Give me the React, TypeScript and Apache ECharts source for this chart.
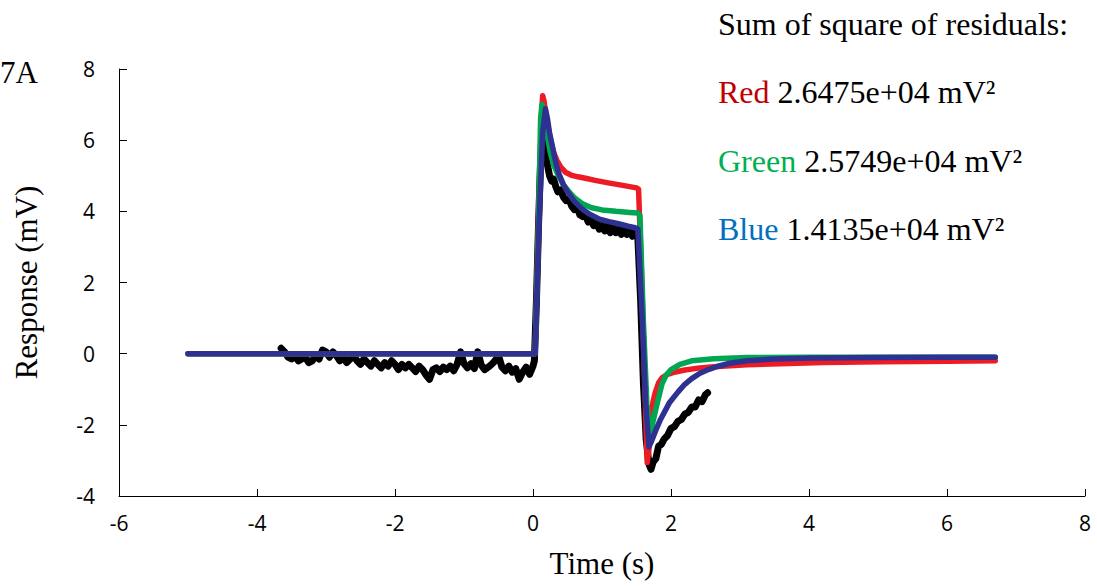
import React, { useEffect, useRef } from "react";
import * as echarts from "echarts";

// Measured trace (black)
const measured: [number, number][] = [
  [-3.65, 0.15], [-3.6, 0.05], [-3.55, -0.1], [-3.5, -0.15], [-3.45, -0.05], [-3.4, -0.2],
  [-3.35, -0.15], [-3.3, -0.1], [-3.25, -0.25], [-3.2, -0.2], [-3.15, -0.05], [-3.1, -0.15],
  [-3.05, 0.1], [-3.0, 0.05], [-2.95, -0.1], [-2.9, 0.05], [-2.85, -0.05], [-2.8, -0.2],
  [-2.75, -0.1], [-2.7, -0.25], [-2.65, -0.15], [-2.6, -0.05], [-2.55, -0.2], [-2.5, -0.3],
  [-2.45, -0.15], [-2.4, -0.25], [-2.35, -0.35], [-2.3, -0.2], [-2.25, -0.3], [-2.2, -0.4],
  [-2.15, -0.25], [-2.1, -0.35], [-2.05, -0.2], [-2.0, -0.3], [-1.95, -0.45], [-1.9, -0.3],
  [-1.85, -0.4], [-1.8, -0.3], [-1.75, -0.4], [-1.7, -0.5], [-1.65, -0.35], [-1.6, -0.45],
  [-1.55, -0.6], [-1.5, -0.72], [-1.45, -0.45], [-1.4, -0.4], [-1.35, -0.5], [-1.3, -0.38],
  [-1.25, -0.45], [-1.2, -0.35], [-1.15, -0.48], [-1.1, -0.3], [-1.05, 0.05], [-1.0, -0.28],
  [-0.95, -0.4], [-0.9, -0.28], [-0.85, -0.42], [-0.8, 0.05], [-0.75, -0.32], [-0.7, -0.45],
  [-0.65, -0.38], [-0.6, -0.3], [-0.55, -0.2], [-0.5, -0.05], [-0.45, -0.38], [-0.4, -0.48],
  [-0.35, -0.35], [-0.3, -0.52], [-0.25, -0.42], [-0.2, -0.72], [-0.15, -0.52], [-0.1, -0.38],
  [-0.05, -0.58], [0.0, -0.35], [0.02, -0.2], [0.05, 1.5], [0.08, 3.6], [0.11, 5.4],
  [0.14, 6.15], [0.16, 6.0], [0.18, 5.7], [0.21, 5.3], [0.24, 5.0], [0.27, 4.85],
  [0.3, 4.9], [0.33, 4.7], [0.36, 4.55], [0.4, 4.6], [0.44, 4.4], [0.48, 4.3],
  [0.52, 4.35], [0.56, 4.15], [0.6, 4.05], [0.64, 4.1], [0.68, 3.9], [0.72, 3.85],
  [0.76, 3.9], [0.8, 3.7], [0.84, 3.75], [0.88, 3.6], [0.92, 3.7], [0.96, 3.5],
  [1.0, 3.6], [1.04, 3.45], [1.08, 3.6], [1.12, 3.4], [1.16, 3.55], [1.2, 3.4],
  [1.24, 3.5], [1.28, 3.35], [1.32, 3.5], [1.36, 3.35], [1.4, 3.45], [1.44, 3.3],
  [1.48, 3.4], [1.52, 3.25], [1.56, 1.5], [1.6, -0.8], [1.64, -2.4], [1.68, -3.1],
  [1.71, -3.25], [1.74, -3.05], [1.78, -2.95], [1.82, -2.6], [1.86, -2.55], [1.9, -2.4],
  [1.95, -2.3], [2.0, -2.1], [2.05, -2.05], [2.1, -1.9], [2.15, -1.85], [2.2, -1.7],
  [2.25, -1.65], [2.3, -1.5], [2.35, -1.5], [2.4, -1.3], [2.45, -1.35], [2.5, -1.15],
  [2.53, -1.1],
];

// Red fit
const redFit: [number, number][] = [
  [-5, 0], [0.03, 0], [0.08, 3.8], [0.12, 6.6], [0.14, 7.25], [0.16, 7.1], [0.19, 6.7],
  [0.22, 6.35], [0.26, 5.95], [0.3, 5.65], [0.35, 5.42], [0.4, 5.25], [0.47, 5.1],
  [0.55, 5.02], [0.65, 4.97], [0.76, 4.93], [0.9, 4.87], [1.09, 4.8], [1.3, 4.73],
  [1.5, 4.66], [1.53, 4.62], [1.58, 1.8], [1.62, -0.9], [1.655, -3.06], [1.68, -2.7],
  [1.7, -1.9], [1.74, -1.35], [1.77, -1.1], [1.82, -0.82], [1.87, -0.68], [1.95, -0.58],
  [2.03, -0.53], [2.2, -0.46], [2.42, -0.4], [2.62, -0.37], [3.1, -0.31], [3.58, -0.28],
  [4.2, -0.25], [5.03, -0.23], [6.0, -0.21], [6.7, -0.2],
];

// Green fit
const greenFit: [number, number][] = [
  [-5, 0], [0.03, 0], [0.08, 3.6], [0.11, 6.6], [0.13, 7.0], [0.16, 6.7], [0.2, 6.2],
  [0.25, 5.65], [0.3, 5.3], [0.37, 5.0], [0.44, 4.75], [0.51, 4.58], [0.6, 4.38],
  [0.71, 4.22], [0.85, 4.1], [1.0, 4.04], [1.2, 4.0], [1.4, 3.97], [1.52, 3.95],
  [1.55, 3.88], [1.6, 0.9], [1.65, -1.4], [1.7, -2.3], [1.74, -1.9], [1.8, -1.4],
  [1.87, -0.85], [1.93, -0.6], [2.0, -0.45], [2.13, -0.3], [2.3, -0.2], [2.62, -0.14],
  [3.1, -0.11], [4.0, -0.1], [5.0, -0.1], [6.7, -0.1],
];

// Blue fit
const blueFit: [number, number][] = [
  [-5, 0], [0.03, 0], [0.09, 3.8], [0.14, 6.2], [0.18, 6.88], [0.21, 6.6], [0.24, 6.2],
  [0.28, 5.84], [0.32, 5.45], [0.37, 5.08], [0.44, 4.75], [0.51, 4.52], [0.6, 4.28],
  [0.71, 4.07], [0.82, 3.92], [0.95, 3.79], [1.1, 3.71], [1.24, 3.65], [1.38, 3.58],
  [1.48, 3.54], [1.52, 3.5], [1.585, 0.93], [1.63, -1.3], [1.68, -2.62], [1.72, -2.45],
  [1.78, -2.15], [1.84, -1.88], [1.98, -1.37], [2.1, -1.08], [2.2, -0.86], [2.3, -0.7],
  [2.42, -0.55], [2.55, -0.44], [2.67, -0.36], [2.85, -0.27], [3.1, -0.2], [3.5, -0.15],
  [4.06, -0.12], [5.0, -0.11], [6.0, -0.1], [6.7, -0.1],
];

const xTicks = { min: -6, max: 8, interval: 2 };
const yTicks = { min: -4, max: 8, interval: 2 };

const residualTitle = "Sum of square of residuals:";
const residualNames = ["Red", "Green", "Blue"];
const residualValues = ["2.6475e+04 mV²", "2.5749e+04 mV²", "1.4135e+04 mV²"];
const residualColors = ["#c00000", "#00b050", "#0070c0"];

const SERIF = "'Liberation Serif', 'Times New Roman', serif";
const SANS = "'Open Sans', 'Noto Sans', sans-serif";

export default function App() {
  const ref = useRef<HTMLDivElement>(null);
  useEffect(() => {
    if (!ref.current) return;
    const chart = echarts.init(ref.current, undefined, { renderer: "svg" });
    const legendY = [92, 161, 229];
    const graphics: any[] = [
      {
        type: "text",
        x: 0,
        y: 72,
        style: { text: "7A", font: `31px ${SERIF}`, fill: "#000", verticalAlign: "middle" },
      },
      {
        type: "text",
        x: 718,
        y: 24,
        style: { text: residualTitle, font: `32px ${SERIF}`, fill: "#000", verticalAlign: "middle" },
      },
    ];
    residualNames.forEach((n, i) => {
      graphics.push({
        type: "text",
        x: 718,
        y: legendY[i],
        style: {
          text: `{c|${n}} ${residualValues[i]}`,
          font: `32px ${SERIF}`,
          fontSize: 32,
          fontFamily: SERIF,
          fill: "#000",
          verticalAlign: "middle",
          rich: {
            c: { fill: residualColors[i], fontSize: 32, fontFamily: SERIF },
          },
        },
      });
    });

    const lineStyleFor = (color: string, width: number) => ({
      type: "line" as const,
      showSymbol: false,
      symbol: "none",
      smooth: false,
      lineStyle: { color, width, join: "round", cap: "round" },
      itemStyle: { color },
      z: 2,
    });

    chart.setOption({
      animation: false,
      backgroundColor: "#fff",
      grid: { left: 119, right: 12, top: 69, bottom: 92, containLabel: false },
      xAxis: {
        type: "value",
        min: xTicks.min,
        max: xTicks.max,
        interval: xTicks.interval,
        name: "Time (s)",
        nameLocation: "middle",
        nameGap: 52,
        nameTextStyle: { fontFamily: SERIF, fontSize: 31, color: "#000" },
        axisLine: { show: true, onZero: false, lineStyle: { color: "#000", width: 1 } },
        axisTick: { show: true, inside: true, length: 7, lineStyle: { color: "#000" } },
        axisLabel: { fontFamily: SANS, fontSize: 21, color: "#000", margin: 16 },
        splitLine: { show: false },
      },
      yAxis: {
        type: "value",
        min: yTicks.min,
        max: yTicks.max,
        interval: yTicks.interval,
        name: "Response (mV)",
        nameLocation: "middle",
        nameGap: 77,
        nameTextStyle: { fontFamily: SERIF, fontSize: 31, color: "#000" },
        axisLine: { show: true, onZero: false, lineStyle: { color: "#000", width: 1 } },
        axisTick: { show: true, inside: true, length: 8, lineStyle: { color: "#000" } },
        axisLabel: { fontFamily: SANS, fontSize: 21, color: "#000", margin: 24 },
        splitLine: { show: false },
      },
      graphic: graphics,
      series: [
        { ...lineStyleFor("#000000", 7), name: "Measured", data: measured },
        { ...lineStyleFor("#ed1c24", 5.5), name: "Red", data: redFit },
        { ...lineStyleFor("#00a651", 5.5), name: "Green", data: greenFit },
        { ...lineStyleFor("#2e3192", 5.5), name: "Blue", data: blueFit },
      ],
    });
    return () => chart.dispose();
  }, []);
  return (
    <div
      ref={ref}
      style={{ position: "fixed", left: 0, top: 0, width: 1097, height: 588, background: "#fff" }}
    />
  );
}
